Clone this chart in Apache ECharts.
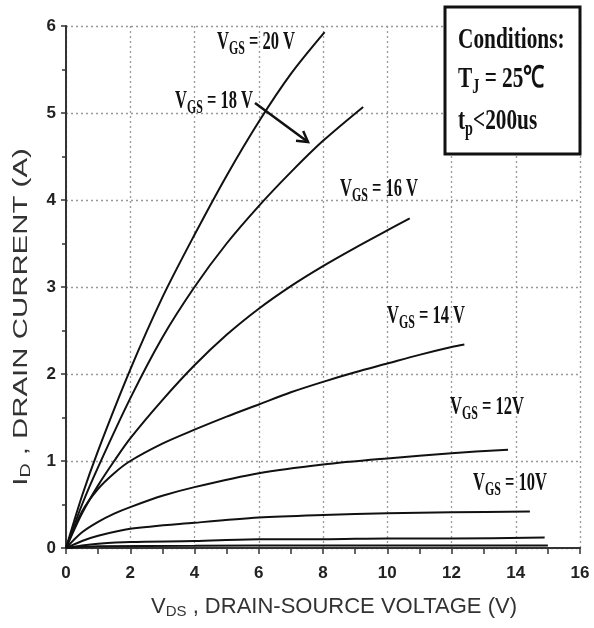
<!DOCTYPE html>
<html>
<head>
<meta charset="utf-8">
<script src="https://cdn.jsdelivr.net/npm/echarts@6/dist/echarts.min.js"></script>
<style>
html,body{margin:0;padding:0;background:#fff;}
#main{width:594px;height:628px;}
</style>
</head>
<body>
<div id="main"></div>
<script>
// ---- data ----
const xTicks = [0, 2, 4, 6, 8, 10, 12, 14, 16];
const yTicks = [0, 1, 2, 3, 4, 5, 6];

const vds20 = [0, 0.5, 1, 2, 3, 4, 5, 6, 7, 8.05];
const id20  = [0, 0.6, 1.12, 2.05, 2.88, 3.6, 4.28, 4.9, 5.45, 5.93];

const vds18 = [0, 0.5, 1, 2, 3, 4, 5, 6, 7, 8, 9.25];
const id18  = [0, 0.5, 0.93, 1.72, 2.42, 3.0, 3.5, 3.93, 4.32, 4.68, 5.07];

const vds16 = [0, 0.5, 1, 1.5, 2, 3, 4, 5, 6, 7, 8, 9, 10, 10.7];
const id16  = [0, 0.4, 0.72, 1.0, 1.26, 1.7, 2.1, 2.45, 2.75, 3.01, 3.24, 3.45, 3.65, 3.79];

const vds14 = [0, 0.5, 1, 1.5, 2, 3, 4, 5, 6, 7, 8, 9, 10, 11, 12, 12.4];
const id14  = [0, 0.42, 0.68, 0.86, 1.0, 1.2, 1.36, 1.51, 1.65, 1.79, 1.91, 2.02, 2.12, 2.22, 2.31, 2.34];

const vds12 = [0, 0.5, 1, 1.5, 2, 3, 4, 6, 8, 10, 12, 13.76];
const id12  = [0, 0.18, 0.3, 0.395, 0.47, 0.6, 0.7, 0.86, 0.96, 1.03, 1.09, 1.13];

const vds10 = [0, 0.5, 1, 2, 4, 6, 8, 10, 12, 14.44];
const id10  = [0, 0.08, 0.14, 0.22, 0.29, 0.35, 0.38, 0.4, 0.41, 0.42];

const vds8 = [0, 0.5, 1, 2, 4, 6, 8, 10, 12, 14.9];
const id8  = [0, 0.03, 0.05, 0.07, 0.08, 0.1, 0.1, 0.11, 0.11, 0.12];

const vds6 = [0, 1, 4, 8, 12, 15];
const id6  = [0, 0.02, 0.025, 0.03, 0.03, 0.03];

const curveNames = ['VGS=20V', 'VGS=18V', 'VGS=16V', 'VGS=14V', 'VGS=12V', 'VGS=10V', 'VGS=8V', 'VGS=6V'];
const curveX = [vds20, vds18, vds16, vds14, vds12, vds10, vds8, vds6];
const curveY = [id20, id18, id16, id14, id12, id10, id8, id6];

const xTitle = ['V', 'DS', ' , DRAIN-SOURCE VOLTAGE (V)'];
const yTitle = ['I', 'D', ' , DRAIN CURRENT (A)'];
const curveLabels = [
  ['V', 'GS', ' = 20 V'],
  ['V', 'GS', ' = 18 V'],
  ['V', 'GS', ' = 16 V'],
  ['V', 'GS', ' = 14 V'],
  ['V', 'GS', ' = 12V'],
  ['V', 'GS', ' = 10V']
];
const condTitle = 'Conditions:';
const condTj = ['T', 'J', ' = 25℃'];
const condTp = ['t', 'p', '<200us'];

// ---- chart ----
const chart = echarts.init(document.getElementById('main'), null, {renderer: 'canvas'});
const sansB = "'Liberation Sans', Arial, sans-serif";
const serif = "'Liberation Serif', 'Times New Roman', serif";

function rt(parts) { return '{m|' + parts[0] + '}{s|' + parts[1] + '}{m|' + parts[2] + '}'; }

const series = curveNames.map((n, i) => ({
  name: n,
  type: 'line',
  data: curveX[i].map((x, j) => [x, curveY[i][j]]),
  smooth: 0.3,
  showSymbol: false,
  lineStyle: {color: '#111', width: 2},
  z: 3
}));

// label anchor positions (pixels)
const labelPos = [[217, 43], [175, 102], [340, 190], [387, 317], [450, 408], [473, 484]];
const graphics = curveLabels.map((p, i) => ({
  type: 'text',
  x: labelPos[i][0], y: labelPos[i][1],
  scaleX: 0.66,
  z: 10,
  style: {
    text: rt(p),
    align: 'left', verticalAlign: 'middle',
    fill: '#111',
    rich: {
      m: {fontFamily: serif, fontWeight: 'bold', fontSize: 25, fill: '#111'},
      s: {fontFamily: serif, fontWeight: 'bold', fontSize: 18, fill: '#111', padding: [13, 0, 0, 0]}
    }
  }
}));

// arrow
graphics.push({
  type: 'line', z: 10,
  shape: {x1: 255, y1: 103, x2: 308, y2: 142},
  style: {stroke: '#111', lineWidth: 2.5}
});
graphics.push({
  type: 'polyline', z: 10,
  shape: {points: [[296, 140.7], [308, 142], [303.2, 131]]},
  style: {stroke: '#111', lineWidth: 2.5, fill: null}
});

// conditions box
graphics.push({
  type: 'rect', z: 10,
  shape: {x: 445, y: 7, width: 135, height: 147},
  style: {fill: '#fff', stroke: '#111', lineWidth: 3}
});
graphics.push({
  type: 'text', z: 11, x: 458, y: 40, scaleX: 0.71,
  style: {text: condTitle, font: 'bold 30px ' + serif, fill: '#111', align: 'left', verticalAlign: 'middle'}
});
const condRich = {
  m: {fontFamily: serif, fontWeight: 'bold', fontSize: 30, fill: '#111'},
  s: {fontFamily: serif, fontWeight: 'bold', fontSize: 20, fill: '#111', padding: [18, 0, 0, 0]}
};
graphics.push({
  type: 'text', z: 11, x: 458, y: 79, scaleX: 0.71,
  style: {text: rt(condTj), rich: condRich, align: 'left', verticalAlign: 'middle'}
});
graphics.push({
  type: 'text', z: 11, x: 458, y: 121, scaleX: 0.71,
  style: {text: rt(condTp), rich: condRich, align: 'left', verticalAlign: 'middle'}
});

// y axis title
graphics.push({
  type: 'text', z: 11, x: 21, y: 317, rotation: Math.PI / 2, scaleX: 1.4,
  style: {
    text: rt(yTitle), align: 'center', verticalAlign: 'middle',
    rich: {
      m: {fontFamily: sansB, fontSize: 21, fill: '#333'},
      s: {fontFamily: sansB, fontSize: 14, fill: '#333', padding: [10, 0, 0, 0]}
    }
  }
});

const option = {
  animation: false,
  backgroundColor: '#fff',
  grid: {left: 66, right: 14, top: 26, bottom: 80},
  xAxis: {
    type: 'value', min: xTicks[0], max: xTicks[xTicks.length - 1], interval: xTicks[1] - xTicks[0],
    axisLine: {show: true, onZero: false, lineStyle: {color: '#333', width: 2}},
    axisTick: {show: true, length: 6, lineStyle: {color: '#333', width: 1.5}},
    minorTick: {show: true, splitNumber: 2, length: 6, lineStyle: {color: '#333', width: 1.5}},
    axisLabel: {margin: 17, fontSize: 17, fontWeight: 'bold', color: '#222', fontFamily: sansB},
    splitLine: {show: true, lineStyle: {type: [2, 3], color: '#999', width: 1.3}},
    name: rt(xTitle),
    nameLocation: 'middle', nameGap: 46,
    nameTextStyle: {
      padding: [0, 0, 0, 22],
      rich: {
        m: {fontFamily: sansB, fontSize: 22, color: '#333'},
        s: {fontFamily: sansB, fontSize: 15, color: '#333', padding: [10, 0, 0, 0]}
      }
    }
  },
  yAxis: {
    type: 'value', min: yTicks[0], max: yTicks[yTicks.length - 1], interval: yTicks[1] - yTicks[0],
    axisLine: {show: true, onZero: false, lineStyle: {color: '#333', width: 2}},
    axisTick: {show: true, length: 5, lineStyle: {color: '#333', width: 1.5}},
    minorTick: {show: true, splitNumber: 2, length: 4, lineStyle: {color: '#333', width: 1.5}},
    axisLabel: {margin: 10, fontSize: 17, fontWeight: 'bold', color: '#222', fontFamily: sansB},
    splitLine: {show: true, lineStyle: {type: [2, 3], color: '#999', width: 1.3}}
  },
  series: series,
  graphic: graphics
};
chart.setOption(option);
</script>
</body>
</html>
